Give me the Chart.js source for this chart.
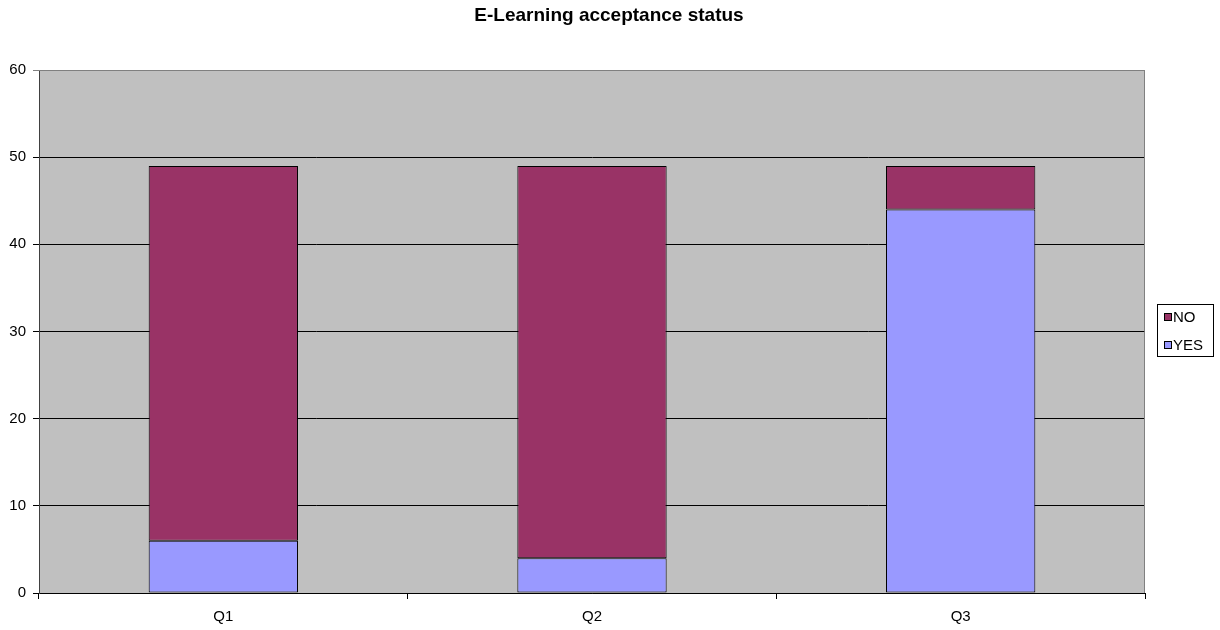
<!DOCTYPE html>
<html>
<head>
<meta charset="utf-8">
<script src="https://cdn.jsdelivr.net/npm/chart.js@4/dist/chart.umd.min.js"></script>
<style>
  body { margin: 0; background: #fff; }
  #wrap { width: 1220px; height: 630px; }
</style>
</head>
<body>
<div id="wrap"><canvas id="chartAcceptance" width="1220" height="630"></canvas></div>
<script>
// data
const labels = ['Q1', 'Q2', 'Q3'];
const yesData = [6, 4, 44];
const noData = [43, 45, 5];
const yTicks = [0, 10, 20, 30, 40, 50, 60];

const FONT = 'Arial, "Liberation Sans", sans-serif';

// grey plot area + frame, title and boxed legend on the right
const excelLook = {
    id: 'excelLook',
    beforeDraw(chart) {
        const {ctx, chartArea: a} = chart;
        ctx.save();
        ctx.fillStyle = '#C0C0C0';
        ctx.fillRect(a.left, a.top, a.right - a.left, a.bottom - a.top);
        ctx.restore();
    },
    beforeDatasetsDraw(chart) {
        const {ctx, chartArea: a} = chart;
        ctx.save();
        ctx.strokeStyle = '#808080';
        ctx.lineWidth = 1;
        ctx.beginPath();
        ctx.moveTo(a.left, a.top + 0.5);
        ctx.lineTo(a.right - 0.5, a.top + 0.5);
        ctx.lineTo(a.right - 0.5, a.bottom);
        ctx.stroke();
        ctx.restore();
    },
    afterDraw(chart) {
        const ctx = chart.ctx;
        ctx.save();
        ctx.fillStyle = '#000';
        ctx.font = 'bold 19px ' + FONT;
        ctx.textAlign = 'center';
        ctx.textBaseline = 'alphabetic';
        ctx.fillText('E-Learning acceptance status', 609, 21);

        // legend (NO on top, YES below)
        const bx = 1157.5, by = 304.5, bw = 56, bh = 52;
        ctx.strokeStyle = '#000';
        ctx.lineWidth = 1;
        ctx.strokeRect(bx, by, bw, bh);
        const items = chart.data.datasets.slice().reverse();
        ctx.font = '15px ' + FONT;
        ctx.textAlign = 'left';
        ctx.textBaseline = 'middle';
        items.forEach((ds, i) => {
            const top = 313 + i * 28;
            ctx.fillStyle = ds.backgroundColor;
            ctx.fillRect(1164, top, 8, 8);
            ctx.strokeRect(1164.5, top + 0.5, 7, 7);
            ctx.fillStyle = '#000';
            ctx.fillText(ds.label, 1173, top + 4.5);
        });
        ctx.restore();
    }
};

const canvas = document.getElementById('chartAcceptance');

new Chart(canvas, {
    type: 'bar',
    data: {
        labels: labels,
        datasets: [
            {
                label: 'YES',
                data: yesData,
                backgroundColor: '#9999FF',
                borderColor: '#000',
                borderWidth: 1,
                borderSkipped: false
            },
            {
                label: 'NO',
                data: noData,
                backgroundColor: '#993366',
                borderColor: '#000',
                borderWidth: 1,
                borderSkipped: false
            }
        ]
    },
    options: {
        responsive: false,
        animation: false,
        layout: { padding: { top: 70, right: 75, left: 0, bottom: 0 } },
        datasets: { bar: { barPercentage: 0.405, categoryPercentage: 1 } },
        plugins: {
            legend: { display: false },
            title: { display: false },
            tooltip: { enabled: false }
        },
        scales: {
            x: {
                stacked: true,
                afterFit: s => { s.height = 37; },
                grid: {
                    offset: true,
                    drawOnChartArea: false,
                    tickLength: 6,
                    color: '#000'
                },
                border: { color: '#000', width: 1 },
                ticks: { color: '#000', font: { family: FONT, size: 15 }, padding: 9 }
            },
            y: {
                stacked: true,
                min: 0,
                max: 60,
                afterFit: s => { s.width = 39; },
                afterBuildTicks: s => { s.ticks = yTicks.map(v => ({value: v})); },
                grid: {
                    color: c => c.tick && c.tick.value === 60 ? '#808080' : '#000',
                    tickLength: 6
                },
                border: { color: '#404040', width: 1 },
                ticks: { color: '#000', font: { family: FONT, size: 15 }, padding: 7 }
            }
        }
    },
    plugins: [excelLook]
});
</script>
</body>
</html>
